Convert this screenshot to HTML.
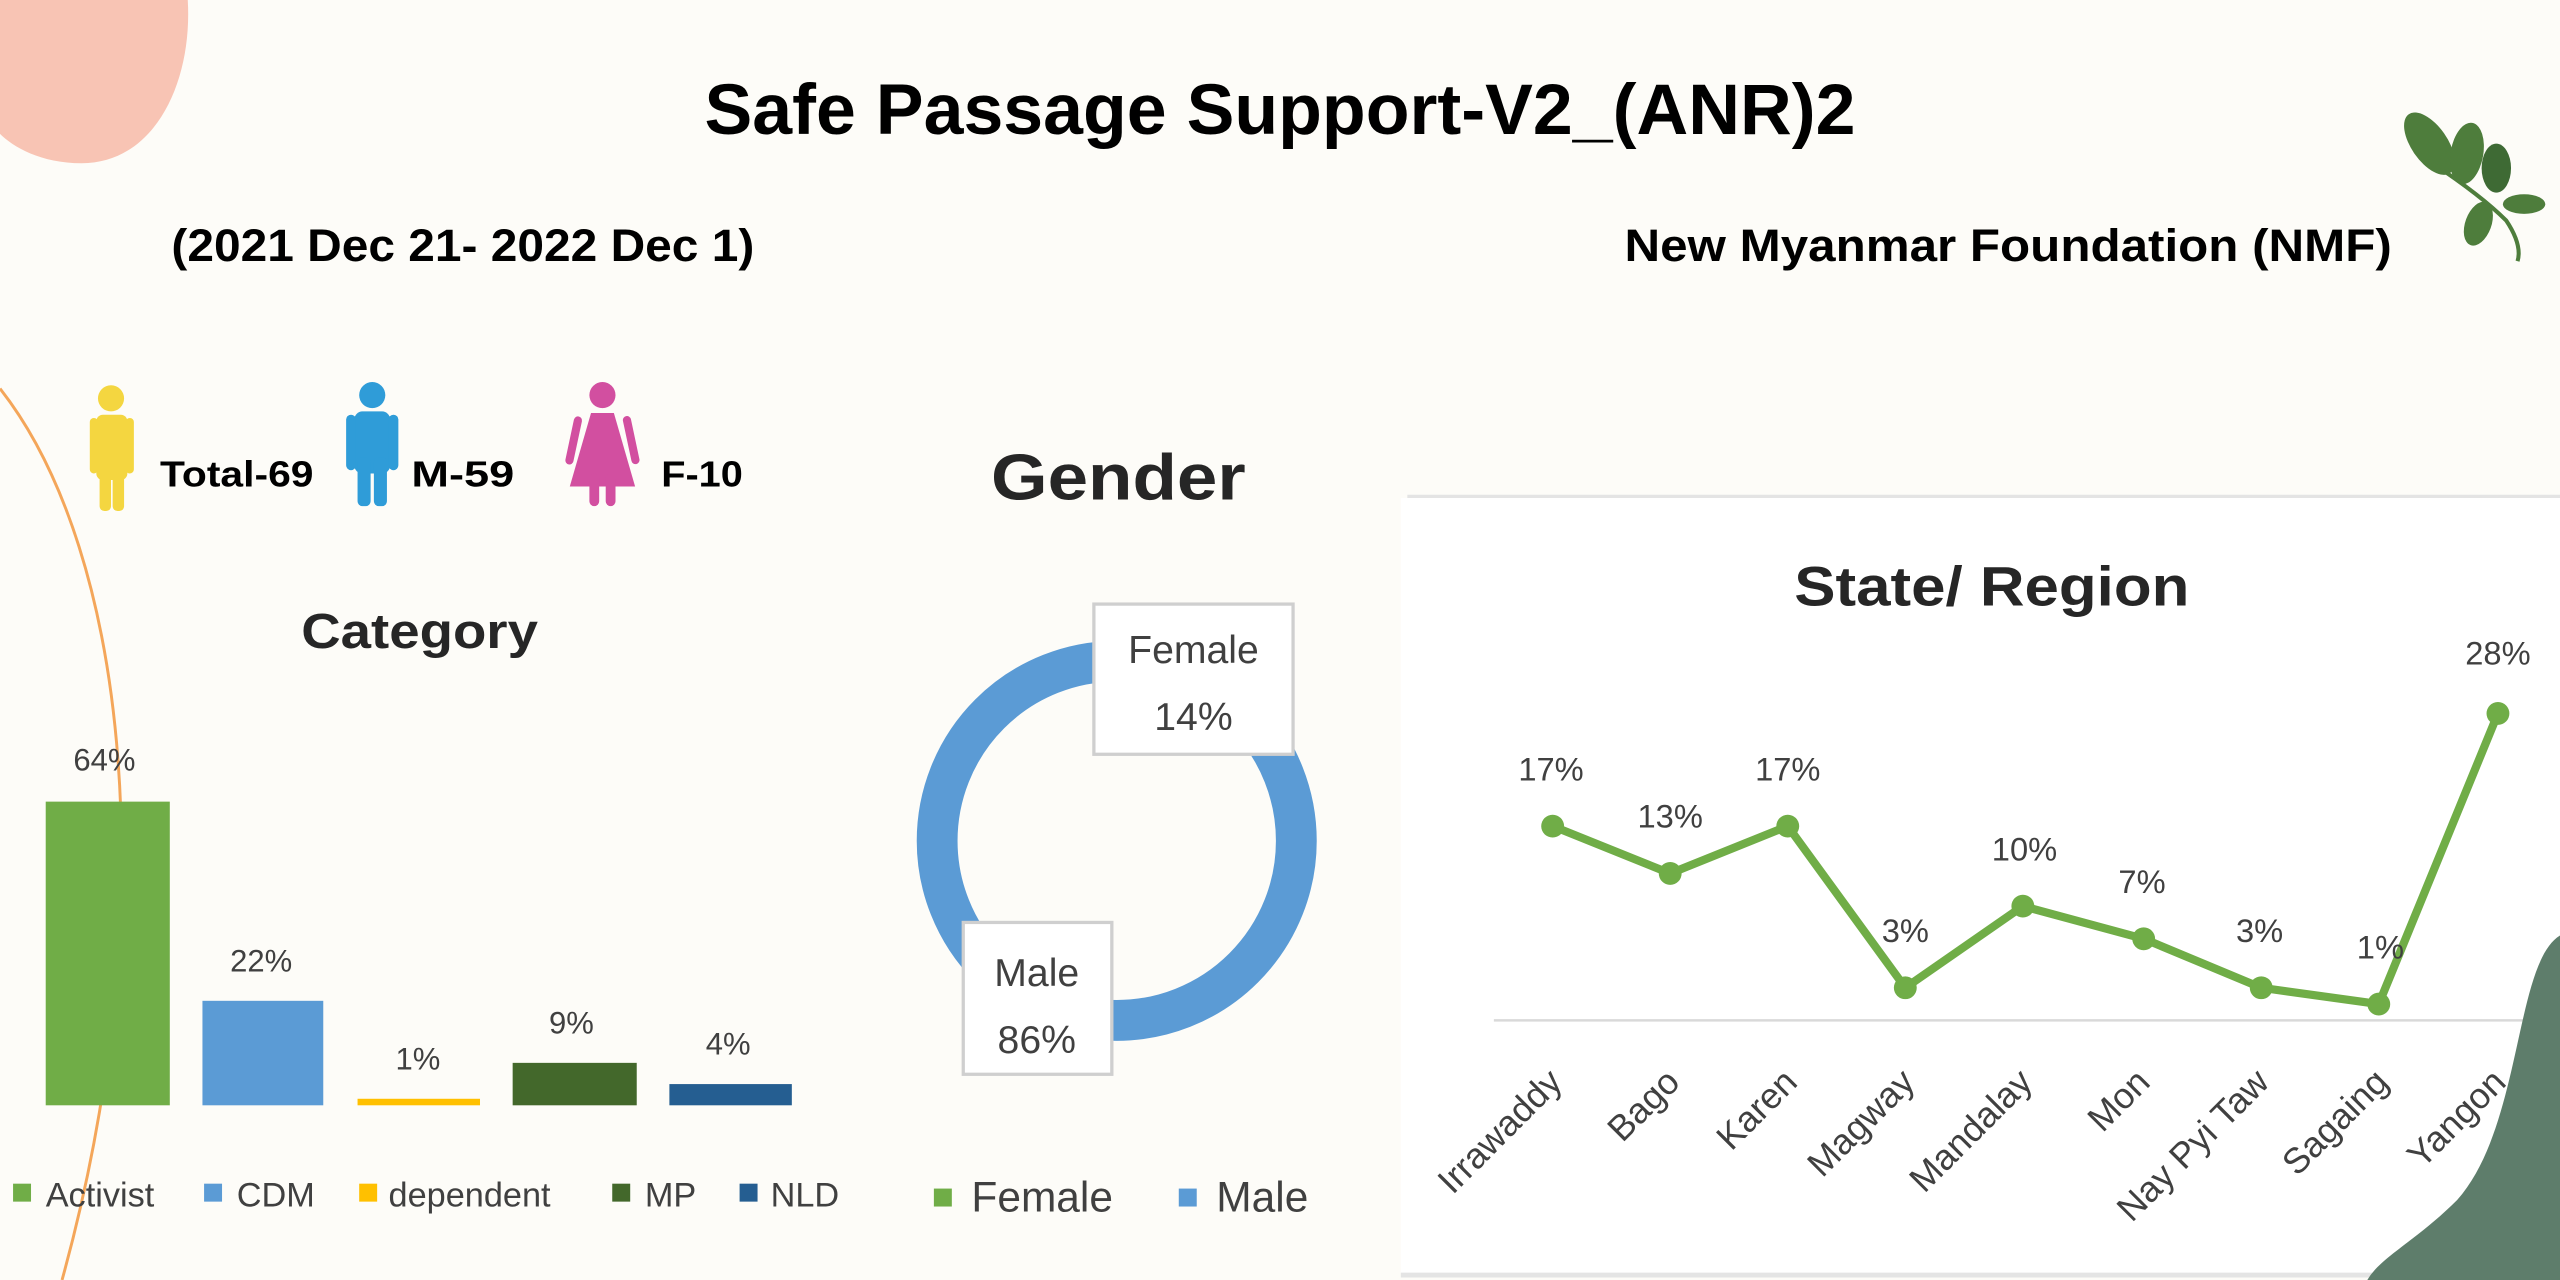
<!DOCTYPE html>
<html><head><meta charset="utf-8"><style>
html,body{margin:0;padding:0;background:#fdfcf8;}
svg{display:block;}
</style></head><body>
<svg width="2560" height="1280" viewBox="0 0 1568 784" xmlns="http://www.w3.org/2000/svg" font-family="'Liberation Sans', sans-serif">
<rect width="1568" height="784" fill="#fdfcf8"/>
<path d="M0,0 L115,0 C118,50 95,100 50,100 C25,100 8,90 0,82 Z" fill="#f8c4b4"/>
<rect x="858" y="305" width="710" height="475" fill="#ffffff"/>
<line x1="862" y1="304" x2="1568" y2="304" stroke="#e4e4e4" stroke-width="2"/>
<line x1="858" y1="781" x2="1568" y2="781" stroke="#e4e4e4" stroke-width="3"/>
<path d="M0,238 C80,340 100,560 38,784" fill="none" stroke="#f4a65a" stroke-width="1.8"/>
<text x="784" y="82" text-anchor="middle" font-size="44" font-weight="bold" textLength="705" lengthAdjust="spacingAndGlyphs">Safe Passage Support-V2_(ANR)2</text>
<text x="105" y="160" font-size="28" font-weight="bold" textLength="357" lengthAdjust="spacingAndGlyphs">(2021 Dec 21- 2022 Dec 1)</text>
<text x="995" y="160" font-size="28" font-weight="bold" textLength="470" lengthAdjust="spacingAndGlyphs">New Myanmar Foundation (NMF)</text>
<g fill="#4e7d3c">
<ellipse cx="1488" cy="88" rx="11" ry="22" transform="rotate(-35 1488 88)"/>
<ellipse cx="1511" cy="94" rx="10" ry="19" transform="rotate(10 1511 94)"/>
<ellipse cx="1529" cy="103" rx="9" ry="15" fill="#3e6a34"/>
<ellipse cx="1518" cy="137" rx="8" ry="14" transform="rotate(20 1518 137)"/>
<ellipse cx="1546" cy="125" rx="13" ry="6"/>
</g>
<path d="M1490,100 Q1520,120 1535,135 Q1545,150 1542,160" stroke="#4e7d3c" stroke-width="2.5" fill="none"/>
<g fill="#f4d640">
<circle cx="68" cy="244" r="8"/>
<rect x="59" y="254" width="19" height="40" rx="4"/>
<rect x="55" y="256" width="5" height="34" rx="2.5"/><rect x="77" y="256" width="5" height="34" rx="2.5"/>
<rect x="61" y="280" width="7" height="33" rx="3"/><rect x="69" y="280" width="7" height="33" rx="3"/>
</g>
<g fill="#2f9cd8">
<circle cx="228" cy="242" r="8"/>
<rect x="217" y="252" width="22" height="38" rx="5"/>
<rect x="212" y="254" width="6" height="34" rx="3"/><rect x="238" y="254" width="6" height="34" rx="3"/>
<rect x="219" y="280" width="8" height="30" rx="3"/><rect x="229" y="280" width="8" height="30" rx="3"/>
</g>
<g fill="#d24fa0">
<circle cx="369" cy="242" r="8"/>
<path d="M362,253 L376,253 L389,298 L349,298 Z"/>
<rect x="352" y="255" width="5" height="30" rx="2.5" transform="rotate(12 354 255)"/>
<rect x="381" y="255" width="5" height="30" rx="2.5" transform="rotate(-12 383 255)"/>
<rect x="361" y="290" width="6" height="20" rx="3"/><rect x="371" y="290" width="6" height="20" rx="3"/>
</g>
<g font-size="22" font-weight="bold">
<text x="98" y="298" textLength="94" lengthAdjust="spacingAndGlyphs">Total-69</text>
<text x="252" y="298" textLength="63" lengthAdjust="spacingAndGlyphs">M-59</text>
<text x="405" y="298" textLength="50" lengthAdjust="spacingAndGlyphs">F-10</text>
</g>
<text x="685" y="306" text-anchor="middle" font-size="40" font-weight="bold" fill="#262626" textLength="156" lengthAdjust="spacingAndGlyphs">Gender</text>
<circle cx="684" cy="515" r="110" fill="none" stroke="#5b9bd5" stroke-width="25"/>
<rect x="670" y="370" width="122" height="92" fill="#fff" stroke="#cfcfcf" stroke-width="2"/>
<text x="731" y="406" text-anchor="middle" font-size="24" fill="#404040">Female</text>
<text x="731" y="447" text-anchor="middle" font-size="24" fill="#404040">14%</text>
<rect x="590" y="565" width="91" height="93" fill="#fff" stroke="#cfcfcf" stroke-width="2"/>
<text x="635" y="604" text-anchor="middle" font-size="24" fill="#404040">Male</text>
<text x="635" y="645" text-anchor="middle" font-size="24" fill="#404040">86%</text>
<rect x="572" y="728" width="11" height="11" fill="#70ad47"/>
<text x="595" y="742" font-size="26" fill="#404040">Female</text>
<rect x="722" y="728" width="11" height="11" fill="#5b9bd5"/>
<text x="745" y="742" font-size="26" fill="#404040">Male</text>
<text x="257" y="397" text-anchor="middle" font-size="30" font-weight="bold" fill="#262626" textLength="145" lengthAdjust="spacingAndGlyphs">Category</text>
<rect x="28" y="491" width="76" height="186" fill="#70ad47"/>
<rect x="124" y="613" width="74" height="64" fill="#5b9bd5"/>
<rect x="219" y="673" width="75" height="4" fill="#ffc000"/>
<rect x="314" y="651" width="76" height="26" fill="#43682b"/>
<rect x="410" y="664" width="75" height="13" fill="#255e91"/>
<g font-size="19" fill="#404040" text-anchor="middle">
<text x="64" y="472">64%</text><text x="160" y="595">22%</text><text x="256" y="655">1%</text><text x="350" y="633">9%</text><text x="446" y="646">4%</text>
</g>
<g font-size="21" fill="#404040">
<rect x="8" y="725" width="11" height="11" fill="#70ad47"/><text x="28" y="739">Activist</text>
<rect x="125" y="725" width="11" height="11" fill="#5b9bd5"/><text x="145" y="739">CDM</text>
<rect x="220" y="725" width="11" height="11" fill="#ffc000"/><text x="238" y="739">dependent</text>
<rect x="375" y="725" width="11" height="11" fill="#43682b"/><text x="395" y="739">MP</text>
<rect x="453" y="725" width="11" height="11" fill="#255e91"/><text x="472" y="739">NLD</text>
</g>
<text x="1220" y="371" text-anchor="middle" font-size="34" font-weight="bold" fill="#262626" textLength="242" lengthAdjust="spacingAndGlyphs">State/ Region</text>
<line x1="915" y1="625" x2="1555" y2="625" stroke="#d9d9d9" stroke-width="1.5"/>
<polyline points="951,506 1023,535 1095,506 1167,605 1239,555 1313,575 1385,605 1457,615 1530,437" fill="none" stroke="#70ad47" stroke-width="5" stroke-linejoin="round"/>
<g fill="#70ad47">
<circle cx="951" cy="506" r="7"/><circle cx="1023" cy="535" r="7"/><circle cx="1095" cy="506" r="7"/><circle cx="1167" cy="605" r="7"/><circle cx="1239" cy="555" r="7"/><circle cx="1313" cy="575" r="7"/><circle cx="1385" cy="605" r="7"/><circle cx="1457" cy="615" r="7"/><circle cx="1530" cy="437" r="7"/>
</g>
<g font-size="20" fill="#404040" text-anchor="middle">
<text x="950" y="478">17%</text><text x="1023" y="507">13%</text><text x="1095" y="478">17%</text><text x="1167" y="577">3%</text><text x="1240" y="527">10%</text><text x="1312" y="547">7%</text><text x="1384" y="577">3%</text><text x="1458" y="587">1%</text><text x="1530" y="407">28%</text>
</g>
<g font-size="22" fill="#404040" text-anchor="end">
<text transform="translate(958,664) rotate(-45)">Irrawaddy</text>
<text transform="translate(1030,664) rotate(-45)">Bago</text>
<text transform="translate(1102,664) rotate(-45)">Karen</text>
<text transform="translate(1174,664) rotate(-45)">Magway</text>
<text transform="translate(1246,664) rotate(-45)">Mandalay</text>
<text transform="translate(1318,664) rotate(-45)">Mon</text>
<text transform="translate(1391,664) rotate(-45)">Nay Pyi Taw</text>
<text transform="translate(1464,664) rotate(-45)">Sagaing</text>
<text transform="translate(1536,664) rotate(-45)">Yangon</text>
</g>
<path d="M1568,573 C1540,590 1545,690 1505,735 C1480,760 1458,770 1450,784 L1568,784 Z" fill="#5e7d6b"/>
</svg>
</body></html>
